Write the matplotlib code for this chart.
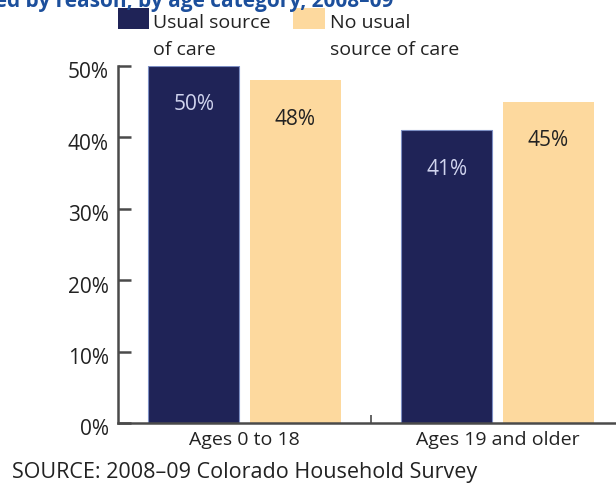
import matplotlib.pyplot as plt
import matplotlib.transforms as mtransforms
from matplotlib.patches import Rectangle

plt.rcParams['font.family'] = ['Open Sans', 'DejaVu Sans']

# Datos
grupos = ["Ages 0 to 18", "Ages 19 and older"]
series = ["Usual source\nof care", "No usual\nsource of care"]
con_fuente = [50, 41]
sin_fuente = [48, 45]
etiquetas_y = ["0%", "10%", "20%", "30%", "40%", "50%"]

azul = "#1f2357"
naranja = "#fdd99e"
gris = "#4a4a4a"
texto = "#222222"

fig = plt.figure(figsize=(6.16, 4.85), dpi=100)
W, H = 616, 485
ax = fig.add_axes([118 / W, (H - 424) / H, (624 - 118) / W, (424 - 67) / H])

x = [0.5, 1.5]
ancho = 0.36
b1 = ax.bar([v - 0.2 for v in x], con_fuente, ancho, color=azul,
            edgecolor="#7d8fc4", linewidth=0.8)
b2 = ax.bar([v + 0.2 for v in x], sin_fuente, ancho, color=naranja, linewidth=0)

for rect, val in zip(b1, con_fuente):
    ax.text(rect.get_x() + rect.get_width() / 2, val - 5.3, f"{val}%",
            ha="center", va="center", color="#d0d4ee", fontsize=15)
for rect, val in zip(b2, sin_fuente):
    ax.text(rect.get_x() + rect.get_width() / 2, val - 5.3, f"{val}%",
            ha="center", va="center", color=texto, fontsize=15)

ax.set_xlim(0, 2)
ax.set_ylim(0, 50)
ax.set_yticks(range(0, 51, 10), etiquetas_y, fontsize=15, color=texto)
ax.tick_params(axis="y", direction="in", length=9, width=1.8, color=gris, pad=6.5)
# etiquetas del eje y un poco por debajo de la marca
desplazamiento = mtransforms.ScaledTranslation(0, -3.5 / 100, fig.dpi_scale_trans)
for lbl in ax.get_yticklabels():
    lbl.set_transform(lbl.get_transform() + desplazamiento)

ax.set_xticks(x, grupos, fontsize=14, color=texto)
ax.tick_params(axis="x", length=0, pad=5)
ax.set_xticks([1.0], minor=True)
ax.tick_params(axis="x", which="minor", direction="in", length=6, width=1.2, color=gris)

for s in ["top", "right"]:
    ax.spines[s].set_visible(False)
for s in ["left", "bottom"]:
    ax.spines[s].set_color(gris)
    ax.spines[s].set_linewidth(1.8)

# Leyenda manual
for (x0, x1, xt, col, txt) in [(118, 149, 153, azul, series[0]),
                               (293, 325, 330, naranja, series[1])]:
    fig.add_artist(Rectangle((x0 / W, (H - 30) / H), (x1 - x0) / W, 21 / H,
                             transform=fig.transFigure, color=col, lw=0))
    for i, linea in enumerate(txt.split("\n")):
        fig.text(xt / W, (H - 28 - 27 * i) / H, linea, ha="left", va="baseline",
                 fontsize=14, color=texto)

# Título (recortado arriba)
fig.text(393 / W, 1 - 7 / H,
         "Percentage with unmet need by reason, by age category, 2008–09",
         ha="right", va="baseline", fontsize=15, fontweight="bold", color="#1c4f9c")

fig.text(12 / W, (H - 478) / H, "SOURCE: 2008–09 Colorado Household Survey",
         ha="left", va="baseline", fontsize=15.5, color=texto)

fig.savefig("out.png", dpi=100)
